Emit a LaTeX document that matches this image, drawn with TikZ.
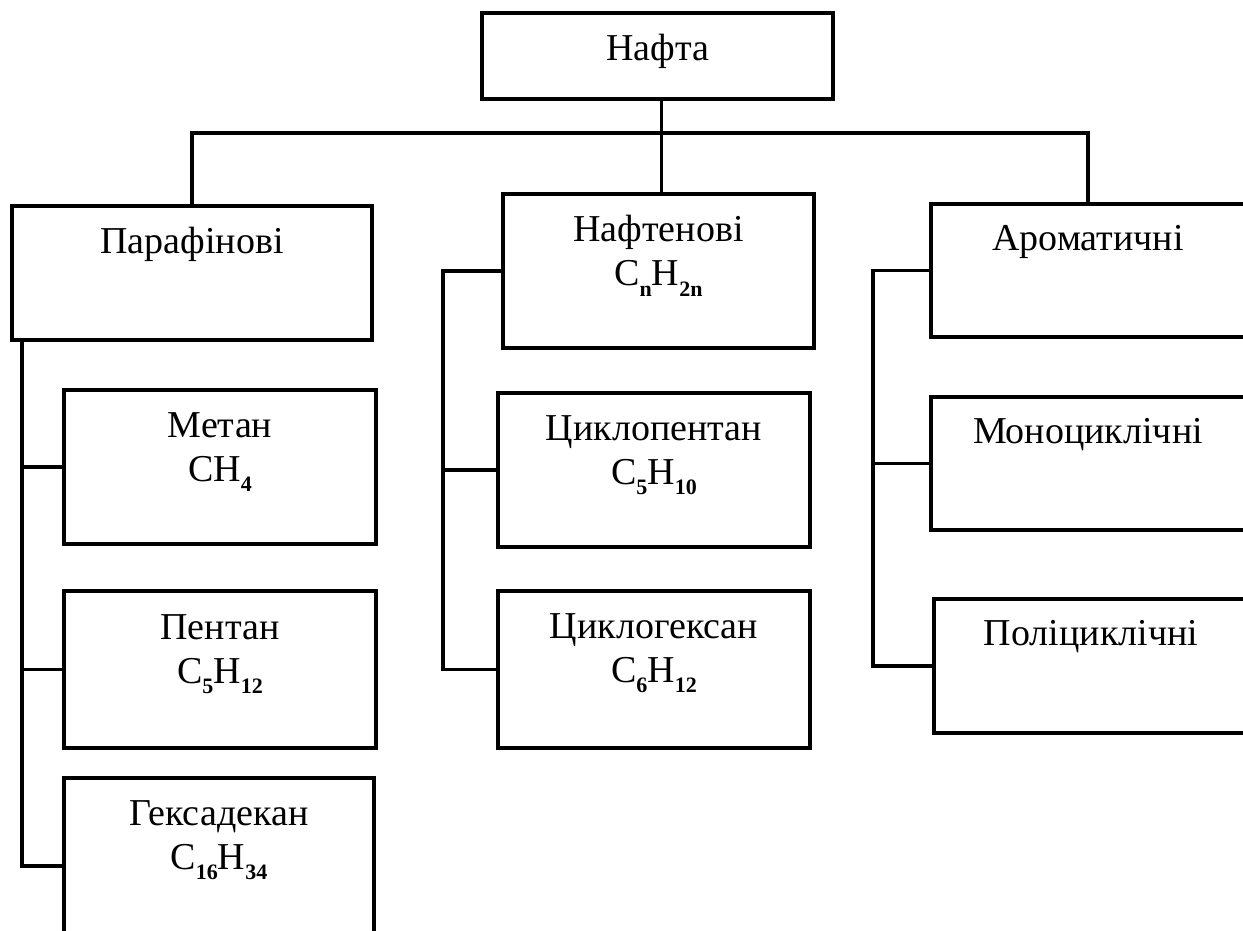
\documentclass[tikz,border=0pt]{standalone}
\usepackage{fontspec}
\setmainfont{Liberation Serif}
\usepackage{tikz}
\usetikzlibrary{positioning}
\newcommand{\lines}{3.2pt}
\newcommand{\ind}[1]{\raisebox{-10.5pt}{\fontsize{22}{22}\selectfont\bfseries #1}}

\begin{document}
\begin{tikzpicture}[x=1pt,y=-1pt,
        box/.style={draw, line width=\lines, outer sep=0pt, inner sep=0pt},
        txt/.style={anchor=north, inner sep=0pt, align=center,
                font=\fontsize{38}{44}\selectfont},
        link/.style={line width=\lines}]
                %\draw[help lines] (0,0) grid (1243,930);
                \useasboundingbox (0,0) rectangle (1243,930);
                % boxes
                \node[box, minimum width=351, minimum height=86] (naf) at (657.5,56) {};
                \node[box, minimum width=360, minimum height=134] (par) at (192,273) {};
                \node[box, minimum width=312, minimum height=154] (met) at (220,467) {};
                \node[box, minimum width=312, minimum height=157] (pen) at (220,669.5) {};
                \node[box, minimum width=310, minimum height=176] (hex) at (219,866) {};
                \node[box, minimum width=311, minimum height=154] (naft) at (658.5,271) {};
                \node[box, minimum width=312, minimum height=154] (cp) at (654,470) {};
                \node[box, minimum width=312, minimum height=157] (ch) at (654,669.5) {};
                \node[box, minimum width=314, minimum height=133] (arom) at (1088,270.5) {};
                \node[box, minimum width=314, minimum height=133] (mono) at (1088,463.5) {};
                \node[box, minimum width=314, minimum height=134] (poly) at (1091,666) {};
                % texts
                \node[txt] (naf-t) at ([yshift=-21pt]naf.north) {Нафта};
                \node[txt] (par-t) at ([yshift=-21pt]par.north) {Парафінові};
                \node[txt] (met-t) at ([yshift=-22pt]met.north) {Метан\\CH\ind{4}};
                \node[txt] (pen-t) at ([yshift=-23pt]pen.north) {Пентан\\C\ind{5}H\ind{12}};
                \node[txt] (hex-t) at ([yshift=-22pt]hex.north) {Гексадекан\\C\ind{16}H\ind{34}};
                \node[txt] (naft-t) at ([yshift=-21pt]naft.north) {Нафтенові\\C\ind{n}H\ind{2n}};
                \node[txt] (cp-t) at ([yshift=-22pt]cp.north) {Циклопентан\\C\ind{5}H\ind{10}};
                \node[txt] (ch-t) at ([yshift=-22pt]ch.north) {Циклогексан\\C\ind{6}H\ind{12}};
                \node[txt] (arom-t) at ([yshift=-21pt]arom.north) {Ароматичні};
                \node[txt] (mono-t) at ([yshift=-21pt]mono.north) {Моноциклічні};
                \node[txt] (poly-t) at ([yshift=-21pt]poly.north) {Поліциклічні};
                % top level
                \coordinate (bus) at (0,133);
                \coordinate (top) at ([xshift=4pt]naf.south);
                \draw[link] (top) -- (top |- naft.north);
                \draw[link] (par.north) -- (par.north |- bus) -- (arom.north |- bus) -- (arom.north);
                % branches
                \coordinate (psp) at ([xshift=10pt]par.south west);
                \draw[link] (psp) |- (hex.west);
                \foreach \b in {met,pen} \draw[link] (\b.west) -- (psp |- \b.west);
                \coordinate (nsp) at ([xshift=-60pt]naft.west);
                \draw[link] (naft.west) -- (nsp) |- (ch.west);
                \draw[link] (cp.west) -- (nsp |- cp.west);
                \coordinate (asp) at ([xshift=-58pt]arom.west);
                \draw[link] (arom.west) -- (asp) |- (poly.west);
                \draw[link] (mono.west) -- (asp |- mono.west);
        \end{tikzpicture}
\end{document}
